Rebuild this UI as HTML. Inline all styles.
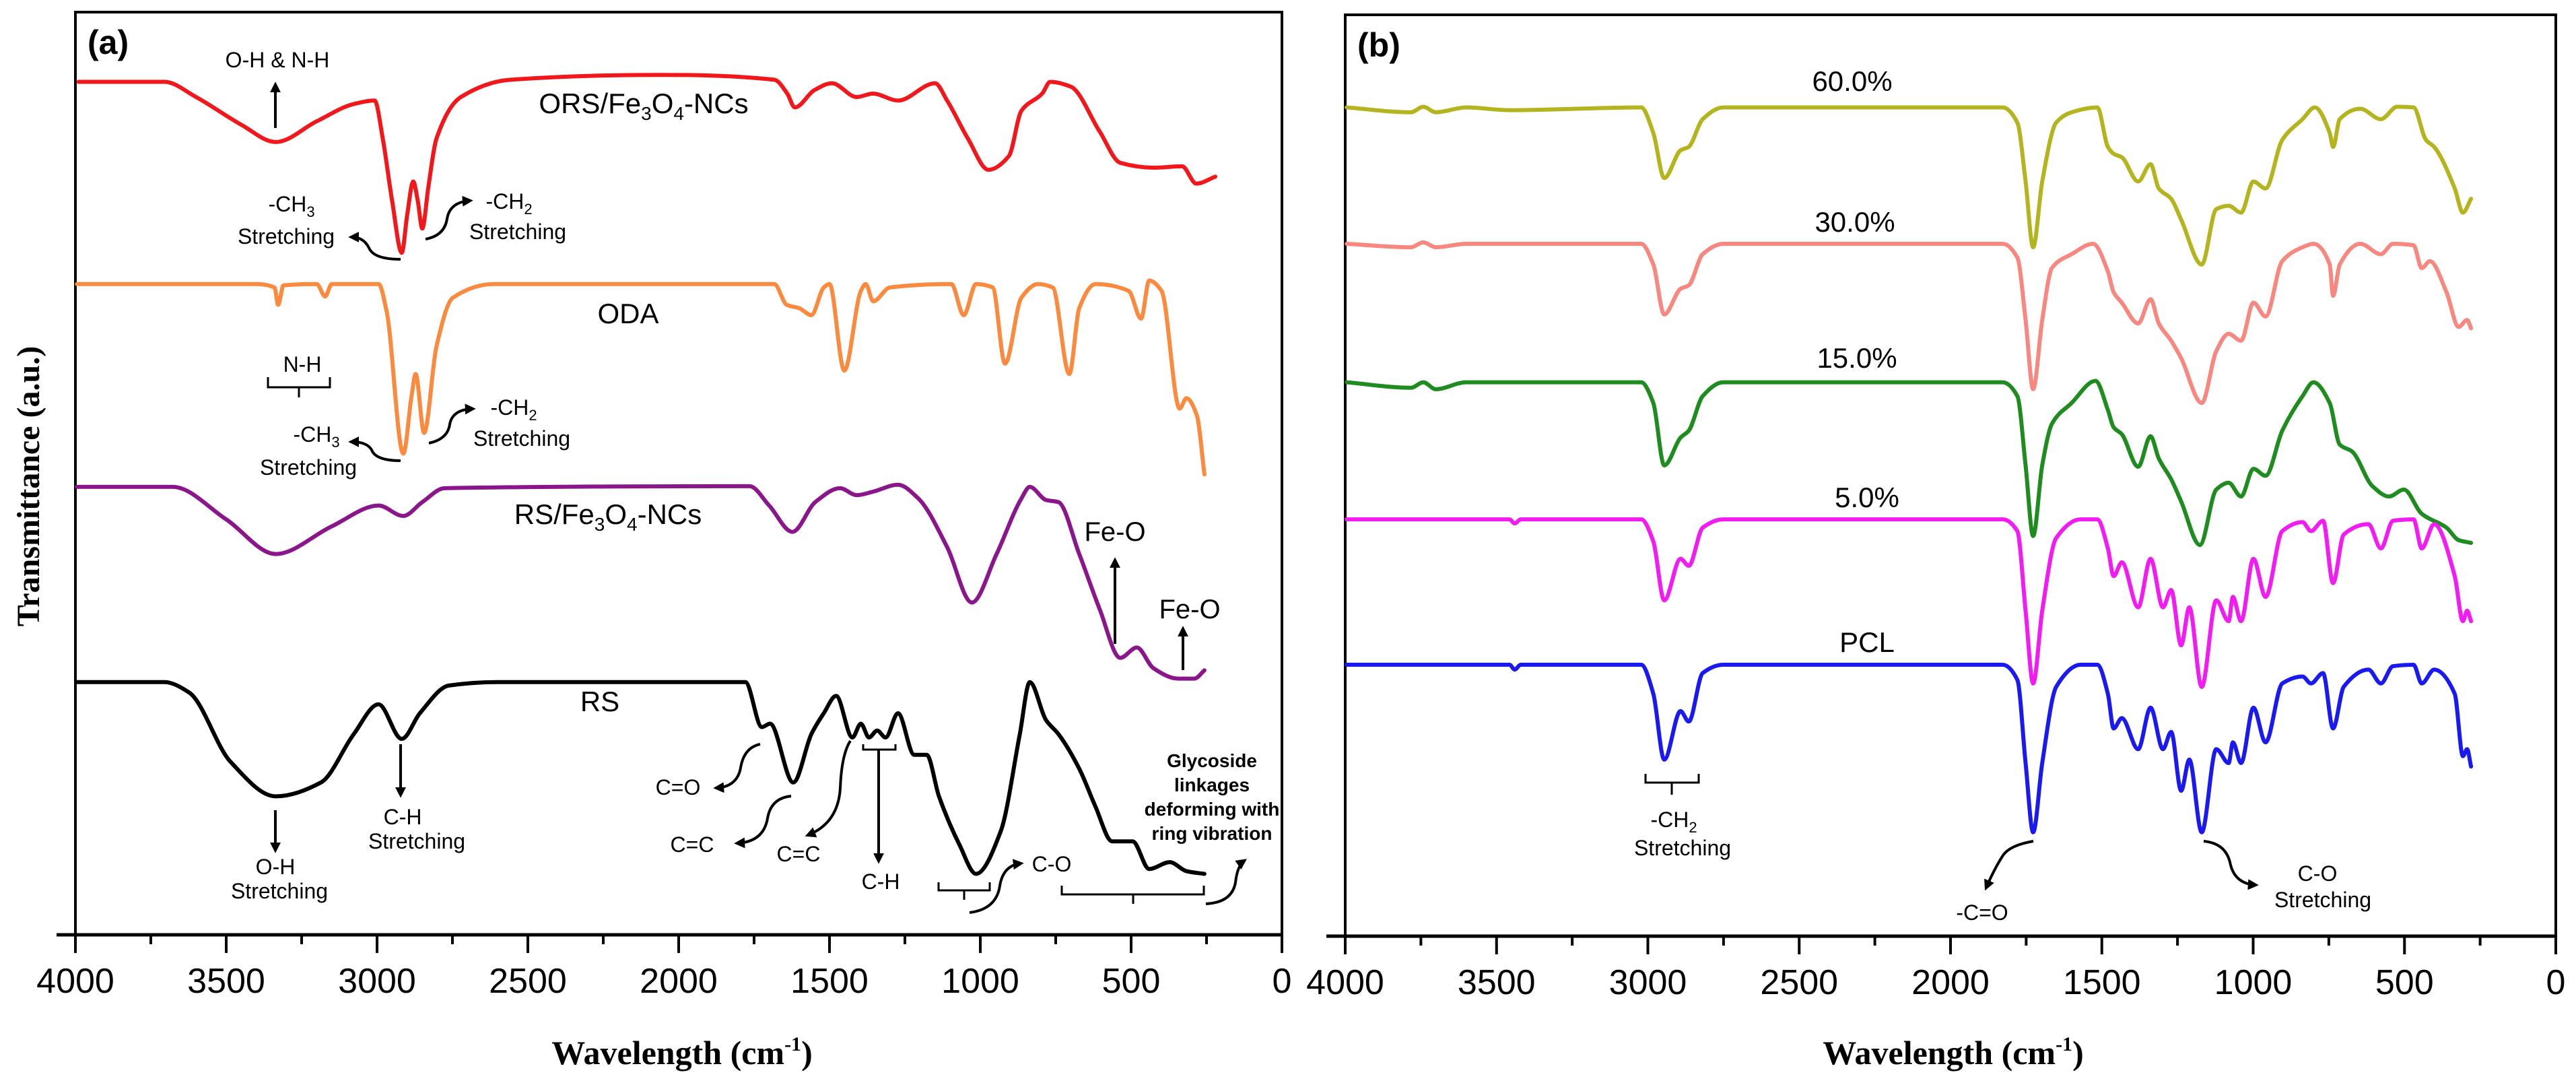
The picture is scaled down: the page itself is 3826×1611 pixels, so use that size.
<!DOCTYPE html>
<html><head><meta charset="utf-8"><style>
html,body{margin:0;padding:0;background:#fff;}
svg{display:block;}
text{font-family:"Liberation Sans",Arial,sans-serif;}
.serif{font-family:"Liberation Serif","Times New Roman",serif;font-weight:bold;}
</style></head><body>
<svg id="chart" width="3826" height="1611" viewBox="0 0 3826 1611" xmlns="http://www.w3.org/2000/svg">
<defs>
<marker id="ah" viewBox="0 0 10 10" refX="7" refY="5" markerWidth="4" markerHeight="4" orient="auto-start-reverse"><path d="M0,0 L10,5 L0,10 z" fill="#000"/></marker>
</defs>
<g id="panelA"></g>
<g id="panelB"></g>
<g id="annots" fill="#000" font-size="32">
<text x="412" y="100" text-anchor="middle">O-H &amp; N-H</text>
<path d="M409,190 L409,126" stroke="#000" stroke-width="4" marker-end="url(#ah)"/>
<text x="433" y="314" text-anchor="middle">-CH<tspan font-size="22" dy="8">3</tspan></text>
<text x="425" y="362" text-anchor="middle">Stretching</text>
<path d="M595,385 Q555,385 548,368 Q540,352 522,352" fill="none" stroke="#000" stroke-width="4" marker-end="url(#ah)"/>
<text x="756" y="310" text-anchor="middle">-CH<tspan font-size="22" dy="8">2</tspan></text>
<text x="769" y="355" text-anchor="middle">Stretching</text>
<path d="M632,355 Q660,350 664,325 Q668,300 698,298" fill="none" stroke="#000" stroke-width="4" marker-end="url(#ah)"/>
<path d="M398,560 L398,575 L490,575 L490,560 M444,575 L444,590" fill="none" stroke="#000" stroke-width="3"/>
<text x="449" y="552" text-anchor="middle">N-H</text>
<text x="470" y="656" text-anchor="middle">-CH<tspan font-size="22" dy="8">3</tspan></text>
<text x="458" y="705" text-anchor="middle">Stretching</text>
<path d="M595,684 Q558,684 552,668 Q545,656 522,656" fill="none" stroke="#000" stroke-width="4" marker-end="url(#ah)"/>
<text x="763" y="616" text-anchor="middle">-CH<tspan font-size="22" dy="8">2</tspan></text>
<text x="775" y="662" text-anchor="middle">Stretching</text>
<path d="M637,658 Q665,652 668,630 Q672,608 702,607" fill="none" stroke="#000" stroke-width="4" marker-end="url(#ah)"/>
<text x="1656" y="803" text-anchor="middle" font-size="40">Fe-O</text>
<path d="M1656,956 L1656,832" stroke="#000" stroke-width="4" marker-end="url(#ah)"/>
<text x="1767" y="918" text-anchor="middle" font-size="40">Fe-O</text>
<path d="M1757,995 L1757,934" stroke="#000" stroke-width="4" marker-end="url(#ah)"/>
<path d="M409,1203 L409,1262" stroke="#000" stroke-width="4" marker-end="url(#ah)"/>
<text x="409" y="1298" text-anchor="middle">O-H</text>
<text x="415" y="1334" text-anchor="middle">Stretching</text>
<path d="M595,1105 L595,1180" stroke="#000" stroke-width="4" marker-end="url(#ah)"/>
<text x="598" y="1224" text-anchor="middle">C-H</text>
<text x="619" y="1260" text-anchor="middle">Stretching</text>
<text x="1007" y="1180" text-anchor="middle">C=O</text>
<path d="M1129,1105 Q1105,1110 1100,1140 Q1095,1168 1064,1170" fill="none" stroke="#000" stroke-width="4" marker-end="url(#ah)"/>
<text x="1028" y="1265" text-anchor="middle">C=C</text>
<path d="M1175,1182 Q1145,1185 1140,1215 Q1134,1250 1095,1252" fill="none" stroke="#000" stroke-width="4" marker-end="url(#ah)"/>
<text x="1186" y="1279" text-anchor="middle">C=C</text>
<path d="M1263,1100 Q1250,1120 1248,1170 Q1245,1222 1200,1240" fill="none" stroke="#000" stroke-width="4" marker-end="url(#ah)"/>
<path d="M1282,1105 L1282,1113 L1330,1113 L1330,1105" fill="none" stroke="#000" stroke-width="3"/>
<path d="M1305,1113 L1305,1278" stroke="#000" stroke-width="4" marker-end="url(#ah)"/>
<text x="1308" y="1320" text-anchor="middle">C-H</text>
<path d="M1394,1310 L1394,1322 L1470,1322 L1470,1310 M1432,1322 L1432,1336" fill="none" stroke="#000" stroke-width="3"/>
<path d="M1440,1355 Q1480,1350 1485,1315 Q1490,1285 1516,1282" fill="none" stroke="#000" stroke-width="4" marker-end="url(#ah)"/>
<text x="1562" y="1294" text-anchor="middle">C-O</text>
<path d="M1577,1315 L1577,1328 L1788,1328 L1788,1315 M1683,1328 L1683,1342" fill="none" stroke="#000" stroke-width="3"/>
<path d="M1791,1342 Q1830,1340 1835,1310 Q1838,1285 1848,1278" fill="none" stroke="#000" stroke-width="4" marker-end="url(#ah)"/>
<g font-size="28" font-weight="bold" text-anchor="middle">
<text x="1800" y="1139">Glycoside</text><text x="1800" y="1175">linkages</text><text x="1800" y="1211">deforming with</text><text x="1800" y="1247">ring vibration</text>
</g>
<path d="M2444,1149 L2444,1162 L2523,1162 L2523,1149 M2483,1162 L2483,1180" fill="none" stroke="#000" stroke-width="3"/>
<text x="2486" y="1228" text-anchor="middle">-CH<tspan font-size="22" dy="8">2</tspan></text>
<text x="2499" y="1270" text-anchor="middle">Stretching</text>
<path d="M3020,1249 Q2985,1255 2975,1270 Q2962,1290 2950,1318" fill="none" stroke="#000" stroke-width="4" marker-end="url(#ah)"/>
<text x="2944" y="1366" text-anchor="middle">-C=O</text>
<path d="M3273,1249 Q3305,1252 3312,1280 Q3318,1312 3350,1314" fill="none" stroke="#000" stroke-width="4" marker-end="url(#ah)"/>
<text x="3442" y="1308" text-anchor="middle">C-O</text>
<text x="3450" y="1347" text-anchor="middle">Stretching</text>
</g>
</svg>
<script>
// ---- data (wavenumber cm-1, transmittance a.u.) ----
const tickValues = [4000, 3500, 3000, 2500, 2000, 1500, 1000, 500, 0];
const minorTickValues = [3750, 3250, 2750, 2250, 1750, 1250, 750, 250];
// Panel (a)
const orsValues = [[3990,1232],[3705,1232],[3600,1210],[3450,1170],[3336,1145],[3200,1175],[3077,1200],[3008,1205],[2981,1150],[2950,1060],[2918,985],[2900,1040],[2880,1088],[2865,1060],[2850,1020],[2830,1080],[2803,1150],[2722,1210],[2557,1235],[2066,1242],[1683,1235],[1640,1215],[1615,1195],[1550,1220],[1492,1230],[1410,1210],[1356,1215],[1273,1205],[1150,1230],[1110,1205],[1041,1150],[973,1105],[905,1125],[864,1190],[795,1215],[768,1232],[700,1225],[604,1160],[536,1115],[426,1108],[331,1110],[284,1085],[221,1095]];
const odaValues = [[3995,940],[3400,940],[3340,935],[3328,910],[3310,938],[3200,940],[3172,922],[3150,940],[2995,940],[2968,900],[2913,695],[2885,780],[2872,810],[2844,725],[2803,850],[2749,920],[2612,940],[1683,940],[1642,910],[1600,905],[1560,895],[1519,935],[1500,940],[1451,815],[1396,930],[1380,940],[1355,915],[1300,935],[1096,940],[1055,895],[1014,940],[959,935],[918,825],[864,920],[809,940],[760,935],[705,810],[672,905],[618,940],[508,930],[467,890],[440,945],[399,930],[339,760],[317,775],[282,750],[257,665]];
const rsFeValues = [[3995,647],[3678,647],[3500,600],[3336,550],[3150,590],[2995,620],[2913,605],[2850,625],[2776,645],[1765,648],[1700,620],[1623,582],[1547,625],[1465,645],[1410,635],[1356,640],[1273,650],[1205,630],[1110,560],[1028,480],[946,550],[864,630],[836,647],[782,628],[741,625],[672,550],[604,470],[536,400],[481,415],[426,385],[344,370],[290,370],[257,382]];
const rsValues = [[3995,365],[3760,365],[3705,365],[3623,350],[3486,250],[3336,200],[3186,220],[3077,290],[2995,333],[2918,283],[2858,320],[2762,360],[2600,365],[1779,365],[1724,300],[1697,305],[1620,220],[1560,290],[1519,320],[1478,345],[1424,285],[1396,305],[1369,285],[1342,295],[1314,285],[1273,320],[1219,260],[1178,260],[1137,200],[1069,130],[1014,88],[932,150],[869,290],[836,365],[782,310],[741,290],[672,240],[618,185],[563,135],[495,135],[440,95],[372,105],[317,92],[257,88]];
// Panel (b)
const pct60Values = [[3995,1197],[3783,1190],[3742,1198],[3701,1190],[3600,1197],[3457,1193],[3022,1197],[2982,1160],[2946,1095],[2892,1135],[2865,1140],[2819,1180],[2751,1197],[1828,1197],[1779,1175],[1752,1090],[1727,995],[1697,1090],[1651,1175],[1600,1190],[1515,1197],[1480,1140],[1461,1130],[1434,1125],[1380,1090],[1339,1115],[1312,1080],[1271,1065],[1238,1035],[1170,970],[1122,1050],[1081,1055],[1040,1045],[999,1090],[959,1080],[904,1150],[837,1180],[796,1197],[747,1160],[736,1140],[714,1180],[646,1195],[578,1180],[524,1198],[470,1197],[429,1150],[402,1140],[334,1080],[307,1045],[280,1065]];
const pct30Values = [[3995,1000],[3783,995],[3742,1002],[3701,995],[3600,1000],[3457,1000],[3022,1000],[2982,970],[2946,898],[2892,935],[2865,940],[2819,985],[2751,1000],[1828,1000],[1779,980],[1752,890],[1727,790],[1697,890],[1665,965],[1600,985],[1529,1000],[1480,960],[1461,930],[1434,915],[1380,885],[1339,920],[1312,885],[1271,860],[1238,835],[1170,770],[1122,845],[1081,870],[1040,860],[999,915],[959,895],[904,975],[837,995],[801,1000],[747,970],[736,925],[714,970],[646,1000],[578,985],[538,1000],[470,998],[443,965],[416,975],[361,930],[321,880],[293,890],[280,878]];
const pct15Values = [[3995,800],[3783,792],[3742,800],[3701,790],[3600,800],[3022,800],[2982,770],[2946,680],[2892,720],[2865,730],[2819,780],[2751,800],[1828,800],[1779,780],[1752,680],[1727,578],[1697,680],[1665,740],[1600,770],[1521,802],[1480,760],[1461,735],[1434,725],[1380,678],[1339,722],[1312,690],[1271,660],[1238,628],[1176,565],[1122,645],[1081,655],[1040,635],[999,675],[959,665],[904,730],[837,780],[801,800],[747,770],[714,710],[673,700],[606,650],[551,635],[502,645],[443,610],[361,590],[321,572],[280,568]];
const pct5Values = [[3995,602],[3457,602],[3440,596],[3420,602],[3022,602],[2982,570],[2946,485],[2892,545],[2865,535],[2819,590],[2751,602],[1828,602],[1779,585],[1752,470],[1727,365],[1697,470],[1651,575],[1570,602],[1515,602],[1480,560],[1461,520],[1434,540],[1380,475],[1339,545],[1298,475],[1271,500],[1238,420],[1211,475],[1170,360],[1122,485],[1081,455],[1067,490],[1040,455],[999,545],[959,490],[904,585],[837,598],[809,585],[769,600],[736,510],[701,580],[619,595],[578,560],[538,600],[470,602],[443,560],[402,595],[334,520],[307,455],[293,470],[280,455]];
const pclValues = [[3995,392],[3457,392],[3440,385],[3420,392],[3022,392],[2982,350],[2946,255],[2892,325],[2865,310],[2819,380],[2751,392],[1828,392],[1779,370],[1752,250],[1727,150],[1697,250],[1651,360],[1570,392],[1515,392],[1480,350],[1461,300],[1434,315],[1380,270],[1339,330],[1298,270],[1271,295],[1238,210],[1211,255],[1170,150],[1122,270],[1081,250],[1067,280],[1040,250],[999,330],[959,280],[904,365],[837,375],[809,365],[769,380],[736,300],[701,360],[619,385],[578,365],[538,390],[470,392],[443,365],[402,385],[334,350],[307,260],[293,270],[280,245]];
const seriesNamesA = ["ORS/Fe3O4-NCs", "ODA", "RS/Fe3O4-NCs", "RS"];
const seriesNamesB = ["60.0%", "30.0%", "15.0%", "5.0%", "PCL"];

const NS = "http://www.w3.org/2000/svg";
function mk(tag, attrs, parent) {
  const e = document.createElementNS(NS, tag);
  for (const k in attrs) e.setAttribute(k, attrs[k]);
  parent.appendChild(e);
  return e;
}
// monotone cubic interpolation (Fritsch-Carlson), x increasing
function smoothPath(pts) {
  const n = pts.length;
  const dx = [], m = [], t = [];
  for (let i = 0; i < n - 1; i++) {
    dx[i] = pts[i + 1][0] - pts[i][0];
    m[i] = (pts[i + 1][1] - pts[i][1]) / dx[i];
  }
  t[0] = m[0]; t[n - 1] = m[n - 2];
  for (let i = 1; i < n - 1; i++) {
    if (m[i - 1] * m[i] <= 0) t[i] = 0;
    else t[i] = 3 * (dx[i - 1] + dx[i]) / ((2 * dx[i] + dx[i - 1]) / m[i - 1] + (dx[i] + 2 * dx[i - 1]) / m[i]);
  }
  let d = "M" + pts[0][0].toFixed(1) + "," + pts[0][1].toFixed(1);
  for (let i = 0; i < n - 1; i++) {
    const h = dx[i] / 3;
    d += "C" + (pts[i][0] + h).toFixed(1) + "," + (pts[i][1] + t[i] * h).toFixed(1) + " " +
         (pts[i + 1][0] - h).toFixed(1) + "," + (pts[i + 1][1] - t[i + 1] * h).toFixed(1) + " " +
         pts[i + 1][0].toFixed(1) + "," + pts[i + 1][1].toFixed(1);
  }
  return d;
}
function buildPanel(g, cfg) {
  const x = w => cfg.x0 + (4000 - w) * (cfg.x1 - cfg.x0) / 4000;
  const y = v => cfg.bottom - v * 1.028;
  const frame = mk("rect", {x: cfg.x0, y: cfg.top, width: cfg.x1 - cfg.x0, height: cfg.bottom - cfg.top, fill: "none", stroke: "#000", "stroke-width": 4}, g);
  
  
  const axis = mk("line", {x1: cfg.x0 - 28, x2: cfg.x1, y1: cfg.bottom, y2: cfg.bottom, stroke: "#000", "stroke-width": 5}, g);
  
  
  tickValues.forEach(t => {
    const tk = mk("line", {x1: x(t), x2: x(t), y1: cfg.bottom, y2: cfg.bottom + 27, stroke: "#000", "stroke-width": 4}, g);
    
    
    const lb = mk("text", {x: x(t), y: cfg.bottom + 86, "text-anchor": "middle", "font-size": 52}, g);
    lb.textContent = t;
    
    
  });
  minorTickValues.forEach(t => {
    const tk = mk("line", {x1: x(t), x2: x(t), y1: cfg.bottom, y2: cfg.bottom + 14, stroke: "#000", "stroke-width": 4}, g);
    
    
  });
  const title = mk("text", {x: cfg.titleX, y: 1580, "text-anchor": "middle", "font-size": 50, class: "serif"}, g);
  title.innerHTML = 'Wavelength (cm<tspan font-size="30" dy="-20">-1</tspan><tspan dy="20">)</tspan>';
  
  
  const pl = mk("text", {x: cfg.x0 + 18, y: cfg.top + 62, "font-size": 50, "font-weight": "bold"}, g);
  pl.textContent = cfg.label;
  
  
  cfg.series.forEach((s, i) => {
    const pts = s.values.map(p => [x(p[0]), y(p[1])]);
    const path = mk("path", {d: smoothPath(pts), fill: "none", stroke: s.color, "stroke-width": 6, "stroke-linejoin": "round", "stroke-linecap": "round"}, g);
    
    
    const t = mk("text", {x: s.lx, y: s.ly, "text-anchor": "middle", "font-size": 42}, g);
    t.innerHTML = s.html;
    
    
  });
}
const sub = (a) => '<tspan font-size="28" dy="10">' + a + '</tspan><tspan dy="-10">';
buildPanel(document.getElementById("panelA"), {
  x0: 112, x1: 1904, top: 18, bottom: 1388, titleX: 1013, label: "(a)",
  series: [
    {key: "ors", values: orsValues, color: "#f2171b", lx: 956, ly: 168, html: 'ORS/Fe' + sub('3') + 'O</tspan>' + sub('4') + '-NCs</tspan>'},
    {key: "oda", values: odaValues, color: "#fb8a3e", lx: 933, ly: 480, html: seriesNamesA[1]},
    {key: "rs-fe", values: rsFeValues, color: "#8b168b", lx: 903, ly: 778, html: 'RS/Fe' + sub('3') + 'O</tspan>' + sub('4') + '-NCs</tspan>'},
    {key: "rs", values: rsValues, color: "#000000", lx: 891, ly: 1056, html: seriesNamesA[3]}
  ]
});
buildPanel(document.getElementById("panelB"), {
  x0: 1998, x1: 3796, top: 22, bottom: 1390, titleX: 2901, label: "(b)",
  series: [
    {key: "pct60", values: pct60Values, color: "#b4b41e", lx: 2751, ly: 135, html: seriesNamesB[0]},
    {key: "pct30", values: pct30Values, color: "#f7877f", lx: 2755, ly: 344, html: seriesNamesB[1]},
    {key: "pct15", values: pct15Values, color: "#1e8c1e", lx: 2758, ly: 546, html: seriesNamesB[2]},
    {key: "pct5", values: pct5Values, color: "#f21cf2", lx: 2773, ly: 753, html: seriesNamesB[3]},
    {key: "pcl", values: pclValues, color: "#1a1af0", lx: 2773, ly: 968, html: seriesNamesB[4]}
  ]
});
const svg = document.getElementById("chart");
const yt = mk("text", {x: 0, y: 0, "text-anchor": "middle", "font-size": 48, class: "serif", transform: "translate(58,722) rotate(-90)"}, svg);
yt.textContent = "Transmittance (a.u.)";


</script>
</body></html>
